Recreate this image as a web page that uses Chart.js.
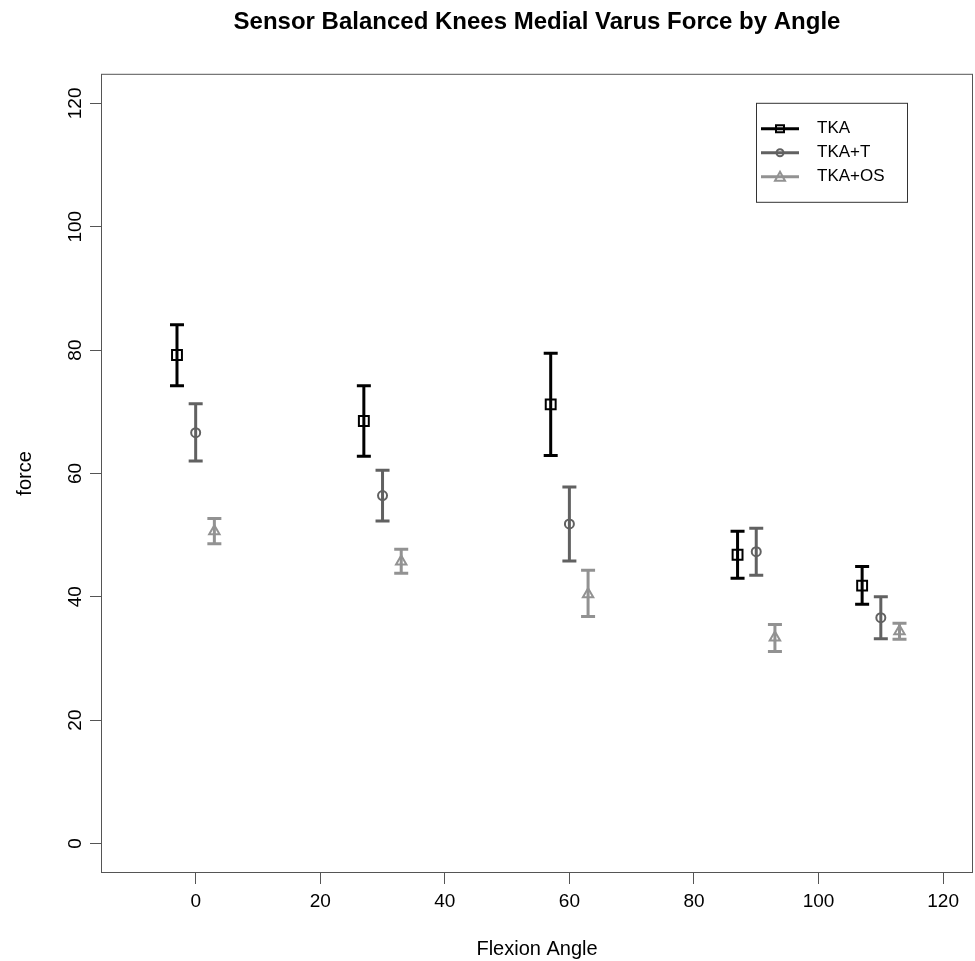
<!DOCTYPE html>
<html lang="en">
<head>
<meta charset="UTF-8" />
<title>Sensor Balanced Knees Medial Varus Force by Angle</title>
<script src="https://cdn.jsdelivr.net/npm/chart.js"></script>
<style>
  html, body { margin: 0; padding: 0; background: #fff; }
  #wrap { width: 975px; height: 961px; }
</style>
</head>
<body>
<div id="wrap"><canvas id="forceChart"></canvas></div>
<script>
  // Mean force with error bar ends, one set per group
  const tkaAngle = [-3, 27, 57, 87, 107];
  const tkaMean  = [79.2, 68.5, 71.2, 46.8, 41.8];
  const tkaLow   = [74.2, 62.8, 62.9, 43.0, 38.8];
  const tkaHigh  = [84.1, 74.2, 79.5, 50.6, 44.9];

  const tkaTAngle = [0, 30, 60, 90, 110];
  const tkaTMean  = [66.6, 56.4, 51.8, 47.3, 36.6];
  const tkaTLow   = [62.0, 52.3, 45.8, 43.5, 33.2];
  const tkaTHigh  = [71.3, 60.5, 57.8, 51.1, 40.0];

  const tkaOSAngle = [3, 33, 63, 93, 113];
  const tkaOSMean  = [50.6, 45.7, 40.4, 33.4, 34.4];
  const tkaOSLow   = [48.6, 43.8, 36.8, 31.1, 33.1];
  const tkaOSHigh  = [52.7, 47.7, 44.3, 35.5, 35.7];

  const xTicks = [0, 20, 40, 60, 80, 100, 120];
  const yTicks = [0, 20, 40, 60, 80, 100, 120];

  const FONT = 'Liberation Sans, Arial, Helvetica, sans-serif';

  function makeSet(label, angle, mean, low, high, color, style, radius) {
    return {
      label: label,
      data: angle.map((x, i) => ({ x: x, y: mean[i] })),
      low: low,
      high: high,
      borderColor: color,
      backgroundColor: 'rgba(0,0,0,0)',
      pointStyle: style,
      pointRadius: radius,
      pointBorderWidth: 2,
      showLine: false
    };
  }

  // error bars with caps, drawn under the markers
  const errorBars = {
    id: 'errorBars',
    beforeDatasetsDraw(chart) {
      const { ctx, scales: { x, y } } = chart;
      ctx.save();
      ctx.lineWidth = 3;
      chart.data.datasets.forEach(ds => {
        ctx.strokeStyle = ds.borderColor;
        ds.data.forEach((p, i) => {
          const px = x.getPixelForValue(p.x);
          const top = y.getPixelForValue(ds.high[i]);
          const bot = y.getPixelForValue(ds.low[i]);
          ctx.beginPath();
          ctx.moveTo(px, top); ctx.lineTo(px, bot);
          ctx.moveTo(px - 7, top); ctx.lineTo(px + 7, top);
          ctx.moveTo(px - 7, bot); ctx.lineTo(px + 7, bot);
          ctx.stroke();
        });
      });
      ctx.restore();
    }
  };

  // plot frame and the boxed legend in the upper right
  const frameAndLegend = {
    id: 'frameAndLegend',
    afterDraw(chart) {
      const { ctx, chartArea: a } = chart;
      ctx.save();
      ctx.strokeStyle = '#555';
      ctx.lineWidth = 1;
      ctx.strokeRect(a.left + 0.5, a.top + 0.5, a.right - a.left - 1, a.bottom - a.top - 1);

      const bx = a.right - 217, by = a.top + 29, bw = 151, bh = 99;
      ctx.strokeStyle = '#333';
      ctx.strokeRect(bx + 0.5, by + 0.5, bw, bh);
      ctx.font = '17px ' + FONT;
      ctx.textBaseline = 'middle';
      chart.data.datasets.forEach((ds, i) => {
        const ly = by + 26 + i * 24;
        ctx.strokeStyle = ds.borderColor;
        ctx.lineWidth = 3;
        ctx.beginPath();
        ctx.moveTo(bx + 5, ly); ctx.lineTo(bx + 43, ly);
        ctx.stroke();
        ctx.lineWidth = 2;
        ctx.beginPath();
        if (ds.pointStyle === 'rect') ctx.rect(bx + 20, ly - 3.5, 8, 7);
        else if (ds.pointStyle === 'circle') ctx.arc(bx + 24, ly, 3.5, 0, Math.PI * 2);
        else { ctx.moveTo(bx + 24, ly - 5); ctx.lineTo(bx + 29, ly + 4); ctx.lineTo(bx + 19, ly + 4); ctx.closePath(); }
        ctx.stroke();
        ctx.fillStyle = '#000';
        ctx.fillText(ds.label, bx + 61, ly);
      });
      ctx.restore();
    }
  };

  const tickFont = { family: FONT, size: 19 };
  const titleFont = { family: FONT, size: 20 };

  new Chart(document.getElementById('forceChart'), {
    type: 'scatter',
    data: {
      datasets: [
        makeSet('TKA', tkaAngle, tkaMean, tkaLow, tkaHigh, '#000000', 'rect', 7),
        makeSet('TKA+T', tkaTAngle, tkaTMean, tkaTLow, tkaTHigh, '#616161', 'circle', 4.5),
        makeSet('TKA+OS', tkaOSAngle, tkaOSMean, tkaOSLow, tkaOSHigh, '#929292', 'triangle', 6)
      ]
    },
    options: {
      responsive: true,
      maintainAspectRatio: false,
      animation: false,
      layout: { autoPadding: false, padding: { left: 0, right: 2, top: 0, bottom: 0 } },
      plugins: {
        legend: { display: false },
        tooltip: { enabled: false },
        title: {
          display: true,
          fullSize: false,
          text: 'Sensor Balanced Knees Medial Varus Force by Angle',
          color: '#000',
          font: { family: FONT, size: 24, weight: 'bold' },
          padding: { top: 8, bottom: 37 }
        }
      },
      scales: {
        x: {
          type: 'linear',
          min: -15.2,
          max: 124.8,
          afterBuildTicks: s => { s.ticks = xTicks.map(v => ({ value: v })); },
          afterFit: s => { s.height = 88; s.paddingLeft = 0; s.paddingRight = 0; },
          border: { display: false },
          grid: { drawOnChartArea: false, drawTicks: true, tickLength: 11, color: '#555' },
          ticks: { color: '#000', font: tickFont, padding: 6, maxRotation: 0 },
          title: { display: true, text: 'Flexion Angle', color: '#000', font: titleFont, padding: { top: 0, bottom: 0 } }
        },
        y: {
          type: 'linear',
          min: -4.8,
          max: 124.8,
          afterBuildTicks: s => { s.ticks = yTicks.map(v => ({ value: v })); },
          afterFit: s => { s.width = 101; s.paddingTop = 0; s.paddingBottom = 0; },
          border: { display: false },
          grid: { drawOnChartArea: false, drawTicks: true, tickLength: 11, color: '#555' },
          ticks: { color: '#000', font: tickFont, padding: -2, minRotation: 90, maxRotation: 90, crossAlign: 'center' },
          title: { display: true, text: 'force', color: '#000', font: titleFont, padding: { top: 13, bottom: 0 } }
        }
      }
    },
    plugins: [errorBars, frameAndLegend]
  });
</script>
</body>
</html>
